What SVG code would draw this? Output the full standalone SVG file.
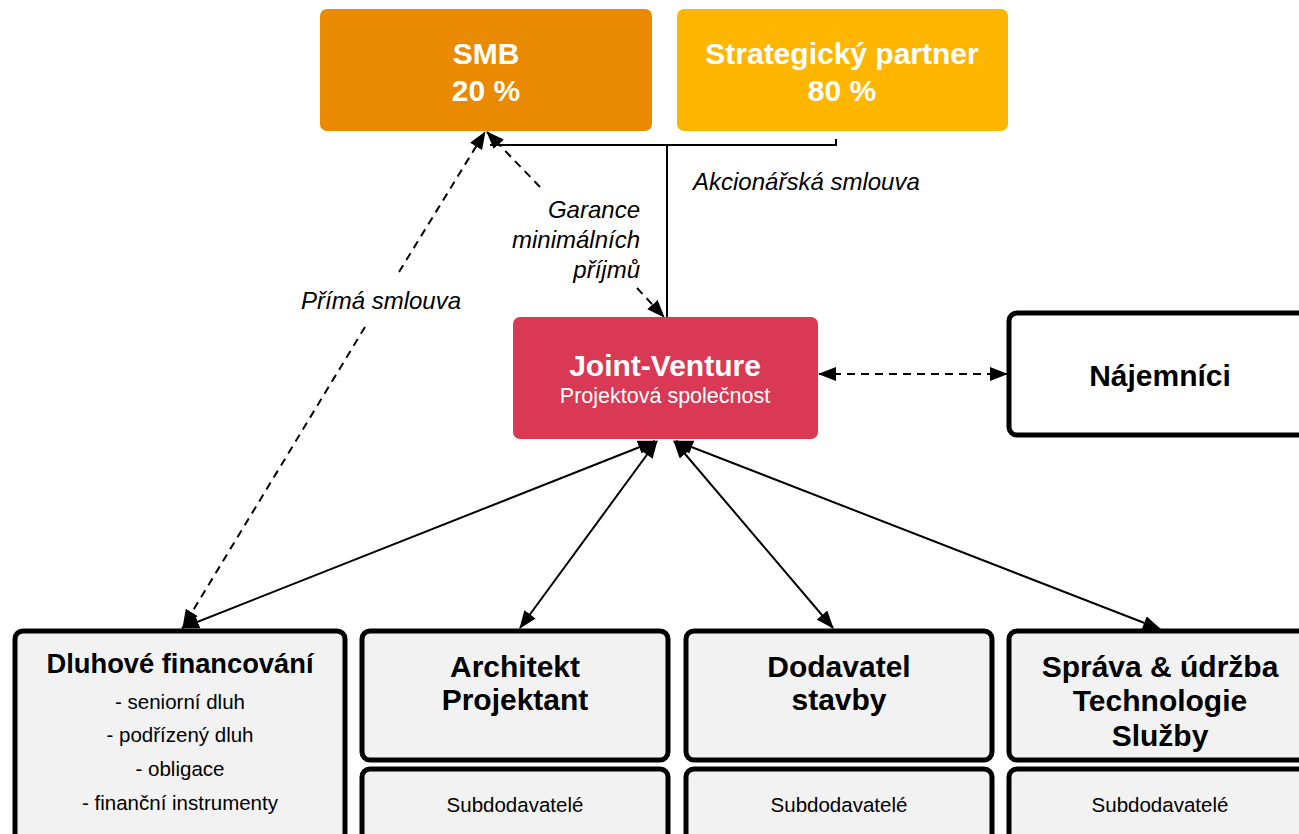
<svg xmlns="http://www.w3.org/2000/svg" width="1299" height="834" viewBox="0 0 1299 834">
<style>
text{font-family:"Liberation Sans",Arial,sans-serif}
.w{fill:#fff;font-weight:bold;font-size:30px;text-anchor:middle}
.b{fill:#000;font-weight:bold;font-size:30px;text-anchor:middle}
.b.t{font-size:27.3px}
.n{fill:#000;font-size:20.5px;text-anchor:middle}
.lbl{fill:#000;font-style:italic;font-size:24px}
.box{fill:#F2F2F2;stroke:#000;stroke-width:5}
.ln{stroke:#000;stroke-width:2;fill:none}
.ds{stroke:#000;stroke-width:2;fill:none;stroke-dasharray:8 6}
</style>
<defs>
<marker id="ah" viewBox="0 0 18 14" refX="17" refY="7" markerWidth="18" markerHeight="14" markerUnits="userSpaceOnUse" orient="auto-start-reverse">
<path d="M0,0 L18,7 L0,14 z" fill="#000"/>
</marker>
</defs>

<g id="connectors">
<path class="ln" d="M490,145 H836 V139"/>
<path class="ln" d="M667,145 V317"/>
<line class="ds" x1="540" y1="187" x2="487" y2="132" marker-end="url(#ah)"/>
<line class="ds" x1="637" y1="288" x2="664" y2="317" marker-end="url(#ah)"/>
<line class="ds" x1="399" y1="272" x2="485" y2="132" marker-end="url(#ah)"/>
<line class="ds" x1="365" y1="327" x2="183" y2="627" marker-end="url(#ah)"/>
<line class="ds" x1="819" y1="374" x2="1007" y2="374" marker-start="url(#ah)" marker-end="url(#ah)"/>
<line class="ln" x1="655" y1="441" x2="182" y2="628" marker-start="url(#ah)" marker-end="url(#ah)"/>
<line class="ln" x1="657" y1="441" x2="520" y2="628" marker-start="url(#ah)" marker-end="url(#ah)"/>
<line class="ln" x1="674" y1="441" x2="833" y2="628" marker-start="url(#ah)" marker-end="url(#ah)"/>
<line class="ln" x1="676" y1="441" x2="1160" y2="629" marker-start="url(#ah)" marker-end="url(#ah)"/>
<text class="lbl" x="693" y="190">Akcionářská smlouva</text>
<text class="lbl" x="640" y="218" text-anchor="end">Garance</text>
<text class="lbl" x="640" y="248" text-anchor="end">minimálních</text>
<text class="lbl" x="640" y="278" text-anchor="end">příjmů</text>
<text class="lbl" x="301" y="309">Přímá smlouva</text>
</g>

<g id="smb">
<rect x="320" y="9" width="332" height="122" rx="7" fill="#E98A00"/>
<text class="w" x="486" y="64">SMB</text>
<text class="w" x="486" y="101">20 %</text>
</g>
<g id="partner">
<rect x="677" y="9" width="331" height="122" rx="7" fill="#FFB600"/>
<text class="w" x="842" y="64">Strategický partner</text>
<text class="w" x="842" y="101">80 %</text>
</g>
<g id="jv">
<rect x="513" y="317" width="305" height="122" rx="7" fill="#D93954"/>
<text class="w" x="665" y="376">Joint-Venture</text>
<text x="665" y="403" fill="#fff" font-size="21.5" text-anchor="middle">Projektová společnost</text>
</g>
<g id="najemnici">
<rect x="1009" y="313" width="300" height="122" rx="8" fill="#fff" stroke="#000" stroke-width="5"/>
<text class="b" x="1160" y="386">Nájemníci</text>
</g>
<g id="dluhove">
<rect class="box" x="15" y="631" width="330" height="215" rx="8"/>
<text class="b t" x="180" y="673">Dluhové financování</text>
<text class="n" x="180" y="709">- seniorní dluh</text>
<text class="n" x="180" y="742">- podřízený dluh</text>
<text class="n" x="180" y="776">- obligace</text>
<text class="n" x="180" y="810">- finanční instrumenty</text>
</g>
<g id="architekt">
<rect class="box" x="362" y="631" width="306" height="129" rx="8"/>
<text class="b" x="515" y="677">Architekt</text>
<text class="b" x="515" y="710">Projektant</text>
</g>
<g id="architekt-sub">
<rect class="box" x="362" y="769" width="306" height="80" rx="8"/>
<text class="n" x="515" y="812">Subdodavatelé</text>
</g>
<g id="dodavatel">
<rect class="box" x="686" y="631" width="306" height="129" rx="8"/>
<text class="b" x="839" y="677">Dodavatel</text>
<text class="b" x="839" y="710">stavby</text>
</g>
<g id="dodavatel-sub">
<rect class="box" x="686" y="769" width="306" height="80" rx="8"/>
<text class="n" x="839" y="812">Subdodavatelé</text>
</g>
<g id="sprava">
<rect class="box" x="1009" y="631" width="300" height="129" rx="8"/>
<text class="b" x="1160" y="677">Správa &amp; údržba</text>
<text class="b" x="1160" y="711">Technologie</text>
<text class="b" x="1160" y="746">Služby</text>
</g>
<g id="sprava-sub">
<rect class="box" x="1009" y="769" width="300" height="80" rx="8"/>
<text class="n" x="1160" y="812">Subdodavatelé</text>
</g>
</svg>
